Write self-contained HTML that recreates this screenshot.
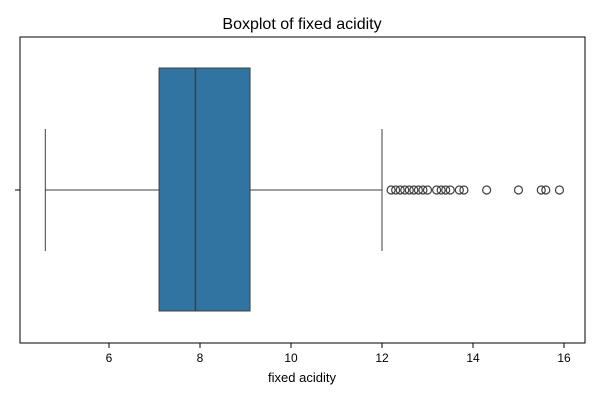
<!DOCTYPE html>
<html><head><style>
body{margin:0;background:#fff;font-family:"Liberation Sans","DejaVu Sans",sans-serif;}
</style></head><body>
<svg id="c" width="600" height="400" xmlns="http://www.w3.org/2000/svg">
<text x="302" y="29" text-anchor="middle" font-size="16" fill="#000">Boxplot of fixed acidity</text>
<rect x="20" y="37" width="565" height="306" fill="none" stroke="#000" stroke-width="1"/>
<line x1="15" x2="20" y1="190" y2="190" stroke="#000"/>
<text x="302" y="382" text-anchor="middle" font-size="13">fixed acidity</text>
<g id="g"></g>
</svg>
<script>
const ticks=[6,8,10,12,14,16];
const stats=[4.6,7.1,7.9,9.1,12.0]; // whiskerLow, q1, median, q3, whiskerHigh
const outliers=[12.2,12.3,12.4,12.5,12.6,12.7,12.8,12.9,13.0,13.2,13.3,13.4,13.5,13.7,13.8,14.3,15.0,15.5,15.6,15.9];
const NS="http://www.w3.org/2000/svg";
const g=document.getElementById('g');
function x(v){return 109+(v-6)*45.5;}
function mk(t,a){const e=document.createElementNS(NS,t);for(const k in a)e.setAttribute(k,a[k]);g.appendChild(e);return e;}
ticks.forEach(t=>{
 const l=mk('line',{x1:x(t),x2:x(t),y1:343,y2:348,stroke:'#000'});
 
 
 const tx=mk('text',{x:x(t),y:362,'text-anchor':'middle','font-size':12});
 tx.textContent=t;
 
 
});
const col='#3f3f3f', cy=190, boxTop=68, boxBot=311;
const w1=mk('line',{x1:x(stats[0]),x2:x(stats[1]),y1:cy,y2:cy,stroke:col});


const w2=mk('line',{x1:x(stats[3]),x2:x(stats[4]),y1:cy,y2:cy,stroke:col});


const c1=mk('line',{x1:x(stats[0]),x2:x(stats[0]),y1:129,y2:251,stroke:col});


const c2=mk('line',{x1:x(stats[4]),x2:x(stats[4]),y1:129,y2:251,stroke:col});


const b=mk('rect',{x:x(stats[1]),y:boxTop,width:x(stats[3])-x(stats[1]),height:boxBot-boxTop,fill:'#3274a1',stroke:col});


const m=mk('line',{x1:x(stats[2]),x2:x(stats[2]),y1:boxTop,y2:boxBot,stroke:col,'stroke-width':1.5});


outliers.forEach(v=>{
 const c=mk('circle',{cx:x(v),cy:cy,r:4,fill:'none',stroke:col,'stroke-width':1.2});
 
 
});
</script>
</body></html>
